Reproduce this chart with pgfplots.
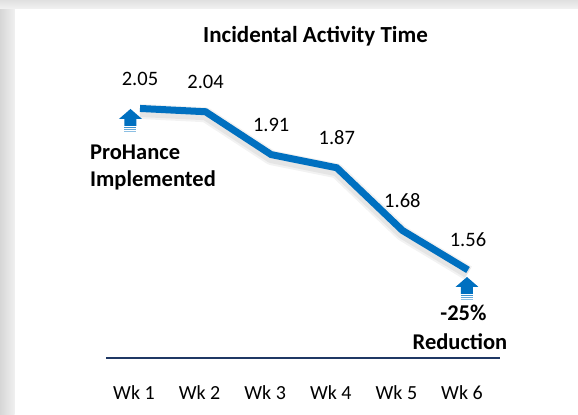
\documentclass[border=0pt]{standalone}
\usepackage{fontspec}
\setmainfont{Carlito}
\usepackage{pgfplots}
\pgfplotsset{compat=1.18}
\definecolor{lineblue}{HTML}{0070C0}
\definecolor{navy}{HTML}{1F3864}
\begin{document}
\begin{tikzpicture}
\useasboundingbox (0bp,0bp) rectangle (578bp,415bp);
\fill[white] (0bp,0bp) rectangle (578bp,415bp);
\shade[left color=black!16, right color=black!6] (0bp,0bp) rectangle (14.5bp,406bp);
\shade[top color=black!12, bottom color=black!5] (0bp,406bp) rectangle (578bp,415bp);
\begin{axis}[
  at={(106bp,57bp)}, anchor=south west,
  scale only axis, width=394bp, height=298bp,
  xmin=-0.518, xmax=5.488, ymin=1.293, ymax=2.197,
  axis x line*=bottom, axis y line=none,
  x axis line style={navy, line width=2.5bp, -},
  xtick={0,...,5}, xticklabels={Wk 1,Wk 2,Wk 3,Wk 4,Wk 5,Wk 6},
  major tick length=0pt,
  xticklabel style={anchor=north, inner sep=0pt, yshift=-27bp, xshift=-6bp, font=\fontsize{20bp}{24bp}\selectfont},
  /pgf/number format/.cd, fixed, fixed zerofill, precision=2, assume math mode=true, /pgfplots/.cd,
  clip=false,
]
\addplot[black, opacity=0.05, line width=15bp, line join=round, mark=none, yshift=-3bp, forget plot] coordinates {(0,2.05) (1,2.04) (2,1.91) (3,1.87) (4,1.68) (5,1.56)};
\addplot[black, opacity=0.05, line width=11bp, line join=round, mark=none, yshift=-3bp, forget plot] coordinates {(0,2.05) (1,2.04) (2,1.91) (3,1.87) (4,1.68) (5,1.56)};
\addplot[lineblue, line width=7bp, line join=miter, mark=none,
  nodes near coords,
  every node near coord/.append style={anchor=south, inner sep=0pt, yshift=19.7bp, text=black, opacity=1, font=\fontsize{20.5bp}{24bp}\selectfont}]
  coordinates {(0,2.05) (1,2.04) (2,1.91) (3,1.87) (4,1.68) (5,1.56)};
% arrow 1
\fill[lineblue] (axis cs:0,2.05) ++(-9.5bp,-0.5bp) -- ++(11.5bp,-10bp) -- ++(-5.5bp,0bp) -- ++(0bp,-7bp) -- ++(-12bp,0bp) -- ++(0bp,7bp) -- ++(-5.5bp,0bp) -- cycle;
\draw[lineblue!75, line width=0.8bp] (axis cs:0,2.05) ++(-15.5bp,-19bp) -- ++(12bp,0bp);
\draw[lineblue!60, line width=0.8bp] (axis cs:0,2.05) ++(-15.5bp,-21bp) -- ++(12bp,0bp);
\draw[lineblue!45, line width=0.8bp] (axis cs:0,2.05) ++(-15.5bp,-23bp) -- ++(12bp,0bp);
% arrow 2
\fill[lineblue] (axis cs:5,1.56) ++(-1bp,-7bp) -- ++(11.5bp,-10bp) -- ++(-5.5bp,0bp) -- ++(0bp,-7bp) -- ++(-12bp,0bp) -- ++(0bp,7bp) -- ++(-5.5bp,0bp) -- cycle;
\draw[lineblue!75, line width=0.8bp] (axis cs:5,1.56) ++(-7bp,-25.5bp) -- ++(12bp,0bp);
\draw[lineblue!60, line width=0.8bp] (axis cs:5,1.56) ++(-7bp,-27.5bp) -- ++(12bp,0bp);
\draw[lineblue!45, line width=0.8bp] (axis cs:5,1.56) ++(-7bp,-29.5bp) -- ++(12bp,0bp);
\end{axis}
\node[anchor=base, inner sep=0pt, font=\fontsize{23bp}{27bp}\selectfont\bfseries] at (315.5bp,372bp) {Incidental Activity Time};
\node[anchor=base west, inner sep=0pt, font=\fontsize{22.5bp}{27bp}\selectfont\bfseries] at (90bp,255bp) {ProHance};
\node[anchor=base west, inner sep=0pt, font=\fontsize{22.5bp}{27bp}\selectfont\bfseries] at (90bp,228bp) {Implemented};
\node[anchor=base, inner sep=0pt, font=\fontsize{22.5bp}{27bp}\selectfont\bfseries] at (463.5bp,94bp) {-25\%};
\node[anchor=base, inner sep=0pt, font=\fontsize{22.5bp}{27bp}\selectfont\bfseries] at (460bp,65bp) {Reduction};
\end{tikzpicture}
\end{document}
